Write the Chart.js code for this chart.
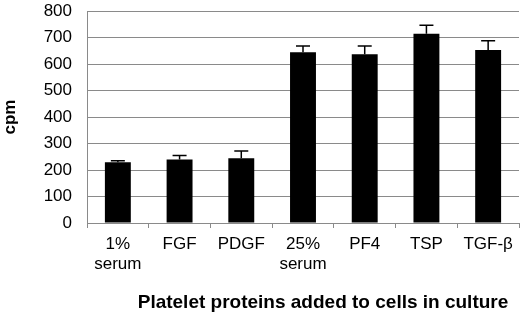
<!DOCTYPE html>
<html>
<head>
<meta charset="utf-8">
<script src="https://cdn.jsdelivr.net/npm/chart.js@4"></script>
<style>
  html,body{margin:0;padding:0;background:#fff;}
  #wrap{width:520px;height:326px;}
</style>
</head>
<body>
<div id="wrap"><canvas id="chart" width="520" height="326"></canvas></div>
<script>
const categories = [['1%','serum'], 'FGF', 'PDGF', ['25%','serum'], 'PF4', 'TSP', 'TGF-\u03b2'];
const cpmValues = [229, 240, 244, 644, 637, 714, 653];
const cpmErrors = [6, 15, 28, 24, 31, 32, 35];
const yTicks = [0, 100, 200, 300, 400, 500, 600, 700, 800];
const xTitle = 'Platelet proteins added to cells in culture';

// error bars, upper side only
const errorBars = {
  id: 'errorBars',
  afterDatasetsDraw(chart) {
    const ctx = chart.ctx;
    const yScale = chart.scales.y;
    const meta = chart.getDatasetMeta(0);
    ctx.save();
    ctx.strokeStyle = '#000';
    ctx.lineWidth = 1.5;
    meta.data.forEach((bar, i) => {
      const top = yScale.getPixelForValue(cpmValues[i]);
      const hi = yScale.getPixelForValue(cpmValues[i] + cpmErrors[i]);
      ctx.beginPath();
      ctx.moveTo(bar.x, top);
      ctx.lineTo(bar.x, hi);
      ctx.moveTo(bar.x - 7, hi);
      ctx.lineTo(bar.x + 7, hi);
      ctx.stroke();
    });
    ctx.restore();
  }
};

// x title sits a bit right of the plot centre in the original
const bottomTitle = {
  id: 'bottomTitle',
  afterDraw(chart) {
    const ctx = chart.ctx;
    const area = chart.chartArea;
    ctx.save();
    ctx.fillStyle = '#000';
    ctx.font = 'bold 19px "Liberation Sans", Arial';
    ctx.textAlign = 'center';
    ctx.textBaseline = 'middle';
    ctx.fillText(xTitle, (area.left + area.right) / 2 + 20, chart.height - 23);
    ctx.restore();
  }
};

new Chart('chart', {
  type: 'bar',
  data: {
    labels: categories,
    datasets: [{
      data: cpmValues,
      backgroundColor: '#000',
      borderWidth: 0,
      barPercentage: 0.42,
      categoryPercentage: 1
    }]
  },
  options: {
    responsive: false,
    animation: false,
    layout: {padding: {top: 11, right: 1, left: 0, bottom: 0}},
    plugins: {legend: {display: false}, tooltip: {enabled: false}},
    scales: {
      x: {
        grid: {display: true, drawOnChartArea: false, color: '#8a8a8a', tickLength: 5, offset: true},
        border: {color: '#8a8a8a'},
        ticks: {color: '#000', font: {family: 'Liberation Sans, Arial', size: 17, lineHeight: 1.18}, padding: 6, maxRotation: 0, autoSkip: false},
        afterFit(scale) { scale.height = 103; scale.paddingLeft = 0; scale.paddingRight = 0; }
      },
      y: {
        min: 0, max: 800,
        afterBuildTicks(scale) { scale.ticks = yTicks.map(v => ({value: v})); },
        grid: {color: '#8a8a8a', drawTicks: false},
        border: {color: '#8a8a8a'},
        ticks: {color: '#000', font: {family: 'Liberation Sans, Arial', size: 17}, padding: 15},
        title: {display: true, text: 'cpm', color: '#000',
                font: {family: 'Liberation Sans, Arial', size: 17, weight: 'bold'}, padding: 0},
        afterFit(scale) { scale.width = 87; scale.paddingTop = 0; scale.paddingBottom = 0; }
      }
    }
  },
  plugins: [errorBars, bottomTitle]
});
</script>
</body>
</html>
